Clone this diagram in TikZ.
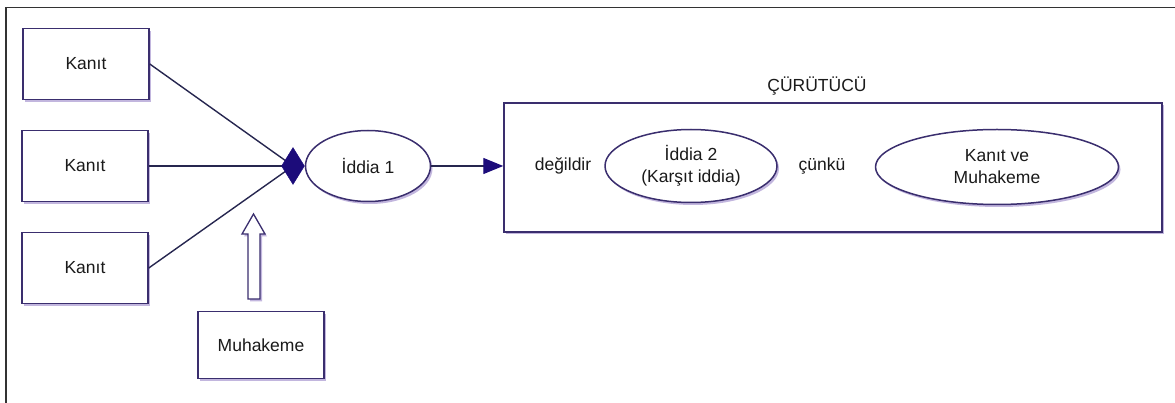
\documentclass[tikz,border=0pt]{standalone}
\usepackage{fontspec}
\setmainfont{Liberation Sans}
\usetikzlibrary{shapes.geometric,arrows.meta,shadows}
\definecolor{edgeline}{HTML}{3A2E6E}
\definecolor{navyfill}{HTML}{1C0C7A}
\definecolor{wireline}{HTML}{26264F}
\definecolor{inktext}{HTML}{1A1A1A}
\definecolor{shadetone}{HTML}{9A86C8}
\definecolor{framegray}{HTML}{333333}
\begin{document}
\begin{tikzpicture}[x=1pt,y=-1pt,
  font=\fontsize{17.5}{22}\selectfont, text=inktext,
  softshadow/.style={drop shadow={shadow xshift=2pt,shadow yshift=-2.5pt,fill=shadetone,opacity=0.6}},
  itembox/.style={draw=edgeline,line width=1.5pt,fill=white,minimum width=126pt,
    minimum height=71pt,inner sep=0pt,softshadow},
  claim/.style={ellipse,draw=edgeline,line width=1.5pt,fill=white,inner sep=0pt,
    softshadow,align=center},
  wire/.style={draw=wireline,line width=1.4pt}]
\useasboundingbox (0,0) rectangle (1175,403);

% outer frame (left and top edges)
\draw[draw=framegray,line width=1.6pt] (6,403) -- (6,7.5) -- (1175,7.5);

% evidence boxes and reasoning box
\node[itembox] (k1) at (86,64)  {Kanıt};
\node[itembox] (k2) at (85,166) {Kanıt};
\node[itembox] (k3) at (85,268) {Kanıt};
\node[itembox,minimum height=67pt] (muh) at (261,345) {Muhakeme};

% first claim
\node[claim,minimum width=125pt,minimum height=71pt] (c1) at (368,166) {İddia 1};

% evidence lines meeting at the junction
\coordinate (j) at (293,166);
\draw[wire] (k1.east) -- (j);
\draw[wire] (k2.east) -- (j);
\draw[wire] (k3.east) -- (j);
\node[diamond,fill=navyfill,draw=navyfill,minimum width=23pt,minimum height=37pt,
  inner sep=0pt] (jd) at (j) {};

% hollow arrow from the reasoning box
\draw[draw=edgeline,line width=1.3pt,fill=white,softshadow]
  (248,299) -- (248,234) -- (242,234) -- (253.5,214) -- (265,234)
  -- (260,234) -- (260,299) -- cycle;

% rebuttal frame
\node (title) at (817,86) {ÇÜRÜTÜCÜ};
\node[draw=edgeline,line width=1.5pt,fill=white,softshadow,minimum width=658pt,
  minimum height=129pt,inner sep=0pt] (ref) at (833,167.5) {};
\draw[wire,-{Triangle[length=20pt,width=16pt,color=navyfill]}]
  (c1.east) -- (c1.east -| ref.west);

\node (neg) at (563,166) {değildir};
\node[claim,minimum width=172pt,minimum height=73pt] (c2) at (691,166)
  {İddia 2\\(Karşıt iddia)};
\node (because) at (822,166) {çünkü};
\node[claim,minimum width=243pt,minimum height=75pt] (ev) at (997,167)
  {Kanıt ve\\Muhakeme};
\end{tikzpicture}
\end{document}
